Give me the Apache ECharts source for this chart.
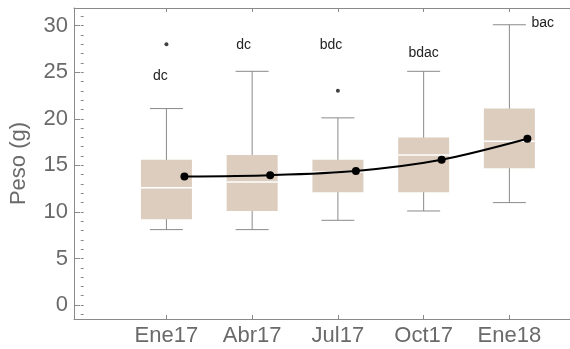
<!DOCTYPE html>
<html>
<head>
<meta charset="utf-8">
<script src="https://cdn.jsdelivr.net/npm/echarts@6/dist/echarts.min.js"></script>
<style>
html,body{margin:0;padding:0;background:#fff;}
#c{width:570px;height:349px;}
</style>
</head>
<body>
<div id="c"></div>
<script>
const categories = ['Ene17', 'Abr17', 'Jul17', 'Oct17', 'Ene18'];
// [low whisker, Q1, median, Q3, high whisker]
const boxStats = [
  [8.1, 9.2, 12.6, 15.6, 21.1],
  [8.1, 10.1, 13.2, 16.1, 25.1],
  [9.1, 12.1, 14.3, 15.6, 20.1],
  [10.1, 12.1, 16.1, 18.0, 25.1],
  [11.0, 14.7, 17.6, 21.1, 30.1]
];
const means = [13.8, 13.95, 14.4, 15.6, 17.85];
const outlierCat = [1, 3];
const outlierVal = [28, 23];
const letters = ['dc', 'dc', 'bdc', 'bdac', 'bac'];
const letterX = [0.93, 1.9, 2.92, 4.0, 5.39];
const letterY = [24.6, 27.9, 27.9, 27.0, 30.3];
const yTicks = [0, 5, 10, 15, 20, 25, 30];
const yMinorTicks = [];
for (let v = -1; v <= 31; v++) yMinorTicks.push(v);
const xTicks = [1, 2, 3, 4, 5];

const MEAN_SHIFT = 0.21;
const BOX_W = 51, CAP_W = 33;
const gray = '#8a8a8a';
const labelColor = '#6a6a6a';
const font = '"Liberation Sans", Arial, sans-serif';

const boxData = boxStats.map((s, i) => [i + 1].concat(s));
const meanData = means.map((m, i) => [i + 1 + MEAN_SHIFT, m]);
const outData = outlierCat.map((c, i) => [c, outlierVal[i]]);
const letterData = letters.map((t, i) => [letterX[i], letterY[i], t]);

const chart = echarts.init(document.getElementById('c'), null, {renderer: 'canvas'});
const axisBase = {min: -0.078, max: 5.707, type: 'value', splitLine: {show: false}};
chart.setOption({
  animation: false,
  backgroundColor: '#fff',
  grid: {left: 71, top: 8, right: 0, height: 311},
  xAxis: [
    Object.assign({}, axisBase, {
      position: 'bottom',
      axisLine: {show: true, onZero: false, lineStyle: {color: gray, width: 1}},
      axisTick: {show: true, inside: true, length: 4, customValues: xTicks, lineStyle: {color: gray}},
      axisLabel: {show: true, customValues: xTicks, margin: 6, color: labelColor, fontSize: 22, fontFamily: font,
        formatter: v => categories[Math.round(v) - 1] || ''}
    }),
    Object.assign({}, axisBase, {
      position: 'top',
      axisLine: {show: true, onZero: false, lineStyle: {color: gray, width: 1}},
      axisTick: {show: true, inside: true, length: 4, customValues: xTicks, lineStyle: {color: gray}},
      axisLabel: {show: false}
    })
  ],
  yAxis: [
    {
      type: 'value', min: -1.5, max: 31.9, position: 'left',
      name: 'Peso (g)', nameLocation: 'middle', nameGap: 44,
      nameTextStyle: {color: labelColor, fontSize: 22, fontFamily: font},
      axisLine: {show: true, onZero: false, lineStyle: {color: gray, width: 1}},
      axisTick: {show: true, inside: true, length: 6, customValues: yTicks, lineStyle: {color: gray}},
      axisLabel: {show: true, customValues: yTicks, margin: 6, color: labelColor, fontSize: 22, fontFamily: font},
      splitLine: {show: false}
    },
    {
      type: 'value', min: -1.5, max: 31.9, position: 'left',
      axisLine: {show: false},
      axisTick: {show: true, inside: true, length: 3, customValues: yMinorTicks, lineStyle: {color: gray}},
      axisLabel: {show: false},
      splitLine: {show: false}
    }
  ],
  series: [
    {
      type: 'custom',
      xAxisIndex: 0, yAxisIndex: 0,
      data: boxData,
      z: 2,
      renderItem: function (params, api) {
        const x = api.value(0);
        const pLow = api.coord([x, api.value(1)]);
        const pQ1 = api.coord([x, api.value(2)]);
        const pMed = api.coord([x, api.value(3)]);
        const pQ3 = api.coord([x, api.value(4)]);
        const pHigh = api.coord([x, api.value(5)]);
        const cx = pLow[0];
        return {
          type: 'group',
          children: [
            {type: 'line', shape: {x1: cx, y1: pLow[1], x2: cx, y2: pHigh[1]}, style: {stroke: gray, lineWidth: 1}},
            {type: 'line', shape: {x1: cx - CAP_W / 2, y1: pLow[1], x2: cx + CAP_W / 2, y2: pLow[1]}, style: {stroke: gray, lineWidth: 1}},
            {type: 'line', shape: {x1: cx - CAP_W / 2, y1: pHigh[1], x2: cx + CAP_W / 2, y2: pHigh[1]}, style: {stroke: gray, lineWidth: 1}},
            {type: 'rect', shape: {x: cx - BOX_W / 2, y: pQ3[1], width: BOX_W, height: pQ1[1] - pQ3[1]}, style: {fill: '#dccdbf'}},
            {type: 'line', shape: {x1: cx - BOX_W / 2, y1: pMed[1], x2: cx + BOX_W / 2, y2: pMed[1]}, style: {stroke: '#ffffff', lineWidth: 1.5}}
          ]
        };
      }
    },
    {
      type: 'scatter',
      xAxisIndex: 0, yAxisIndex: 0,
      data: outData,
      symbol: 'circle', symbolSize: 4,
      itemStyle: {color: '#111'},
      z: 3
    },
    {
      type: 'line',
      xAxisIndex: 0, yAxisIndex: 0,
      data: meanData,
      smooth: 0.3,
      symbol: 'circle', symbolSize: 8,
      lineStyle: {color: '#000', width: 2},
      itemStyle: {color: '#000'},
      z: 4
    },
    {
      type: 'custom',
      xAxisIndex: 0, yAxisIndex: 0,
      data: letterData,
      z: 5,
      renderItem: function (params, api) {
        const p = api.coord([api.value(0), api.value(1)]);
        return {
          type: 'text',
          x: p[0], y: p[1],
          style: {text: letters[params.dataIndex], fill: '#222', fontSize: 14, fontFamily: font, align: 'center', verticalAlign: 'middle'}
        };
      }
    }
  ]
});
</script>
</body>
</html>
